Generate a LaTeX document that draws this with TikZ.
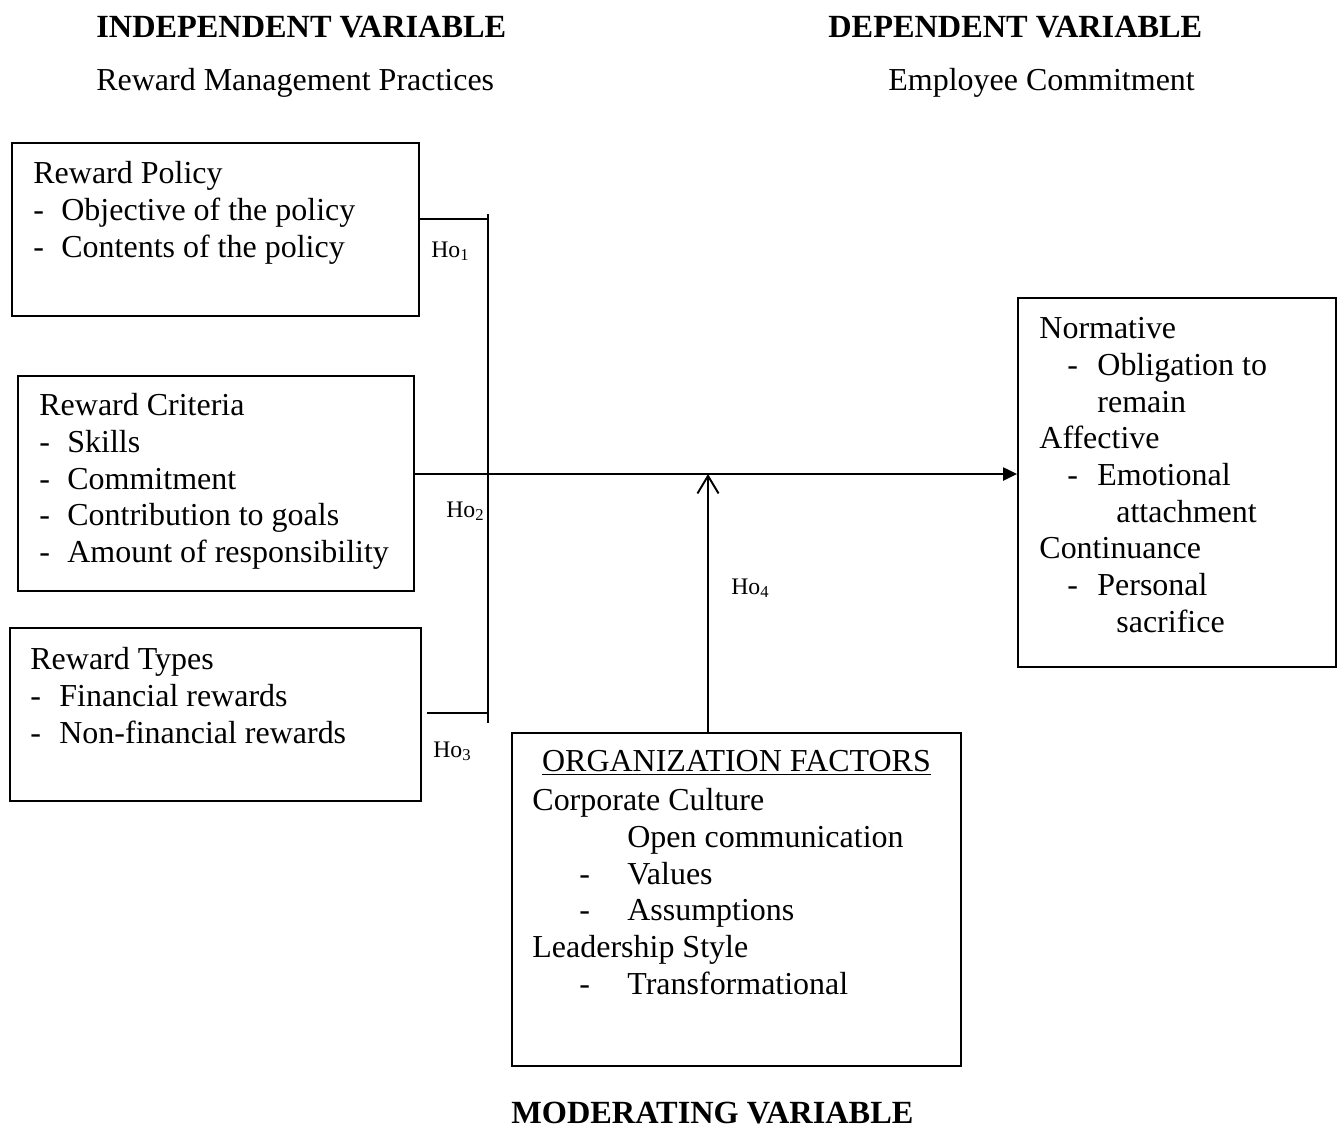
\documentclass[tikz,border=0pt]{standalone}
\usepackage{fontspec}
\setmainfont{Liberation Serif}
\usetikzlibrary{positioning,arrows.meta}
\newcommand{\dashitem}[2][0.56cm]{\makebox[#1][l]{-}#2}

\begin{document}
\begin{tikzpicture}[
    x=0.02cm, y=-0.02cm,
    box/.style={draw, line width=1.1pt, inner sep=0pt},
    txt/.style={font=\fontsize{18.2}{20.9}\selectfont, align=left, inner sep=0pt, anchor=north west},
    heading/.style={font=\fontsize{18.2}{20.9}\selectfont, inner sep=0pt, anchor=base west},
    holabel/.style={font=\fontsize{13.5}{16}\selectfont, inner sep=0pt, anchor=base west},
    link/.style={line width=1.1pt}
  ]
  \useasboundingbox (0,0) rectangle (1342,1134);

  % headings
  \node[heading, font=\fontsize{18.4}{20.9}\selectfont\bfseries] (indep) at (96,37) {INDEPENDENT VARIABLE};
  \node[heading] (indepsub) at (96,90) {Reward Management Practices};
  \node[heading, font=\fontsize{18.4}{20.9}\selectfont\bfseries] (dep) at (828,37) {DEPENDENT VARIABLE};
  \node[heading] (depsub) at (888,90) {Employee Commitment};
  \node[heading, font=\fontsize{18.4}{20.9}\selectfont\bfseries] (moder) at (511,1123) {MODERATING VARIABLE};

  % boxes
  \node[box, minimum width=8.14cm, minimum height=3.46cm] (policy) at (215.5,229.5) {};
  \node[box, minimum width=7.92cm, minimum height=4.30cm] (criteria) at (216,483.5) {};
  \node[box, minimum width=8.22cm, minimum height=3.46cm] (types) at (215.5,714.5) {};
  \node[box, minimum width=6.36cm, minimum height=7.38cm] (commit) at (1177,482.5) {};
  \node[box, minimum width=8.98cm, minimum height=6.66cm] (org) at (736.5,899.5) {};

  % box texts
  \node[txt, below right=0.38cm and 0.44cm of policy.north west] (policytxt)
    {Reward Policy\\ \dashitem{Objective of the policy}\\ \dashitem{Contents of the policy}};
  \node[txt, below right=0.36cm and 0.44cm of criteria.north west] (criteriatxt)
    {Reward Criteria\\ \dashitem{Skills}\\ \dashitem{Commitment}\\
     \dashitem{Contribution to goals}\\ \dashitem{Amount of responsibility}};
  \node[txt, below right=0.40cm and 0.42cm of types.north west] (typestxt)
    {Reward Types\\ \dashitem[0.58cm]{Financial rewards}\\ \dashitem[0.58cm]{Non-financial rewards}};
  \node[txt, below right=0.40cm and 0.44cm of commit.north west] (committxt)
    {Normative\\
     \hspace*{0.56cm}\dashitem[0.60cm]{Obligation to}\\
     \hspace*{1.16cm}remain\\
     Affective\\
     \hspace*{0.56cm}\dashitem[0.60cm]{Emotional}\\
     \hspace*{1.54cm}attachment\\
     Continuance\\
     \hspace*{0.56cm}\dashitem[0.60cm]{Personal}\\
     \hspace*{1.54cm}sacrifice};
  \node[txt, anchor=north, below=0.36cm of org.north] (orgtitle) {\underline{ORGANIZATION FACTORS}};
  \node[txt, below right=1.12cm and 0.42cm of org.north west] (orgtxt)
    {Corporate Culture\\
     \hspace*{1.90cm}Open communication\\
     \hspace*{0.94cm}\dashitem[0.96cm]{Values}\\
     \hspace*{0.94cm}\dashitem[0.96cm]{Assumptions}\\
     Leadership Style\\
     \hspace*{0.94cm}\dashitem[0.96cm]{Transformational}};

  % connectors
  \coordinate (bartop) at (488,214);
  \coordinate (barbot) at (488,723);
  \coordinate (h1) at (488,219);
  \coordinate (h3) at (488,713);
  \coordinate (join) at (708,474);
  \draw[link] (bartop) -- (barbot);
  \draw[link] (policy.east |- h1) -- (h1);
  \draw[link, shorten <=0.1cm] (types.east |- h3) -- (h3);
  \draw[link, -{Triangle[length=8pt,width=7.5pt]}] (criteria.east |- join) -- (commit.west |- join);
  \draw[link, -{Straight Barb[length=10pt,width=12pt]}] (org.north -| join) -- (join);

  % hypothesis labels
  \node[holabel] (ho1) at (431,257) {Ho\textsubscript{1}};
  \node[holabel] (ho2) at (446,517) {Ho\textsubscript{2}};
  \node[holabel] (ho3) at (433,757) {Ho\textsubscript{3}};
  \node[holabel] (ho4) at (731,594) {Ho\textsubscript{4}};
\end{tikzpicture}
\end{document}
